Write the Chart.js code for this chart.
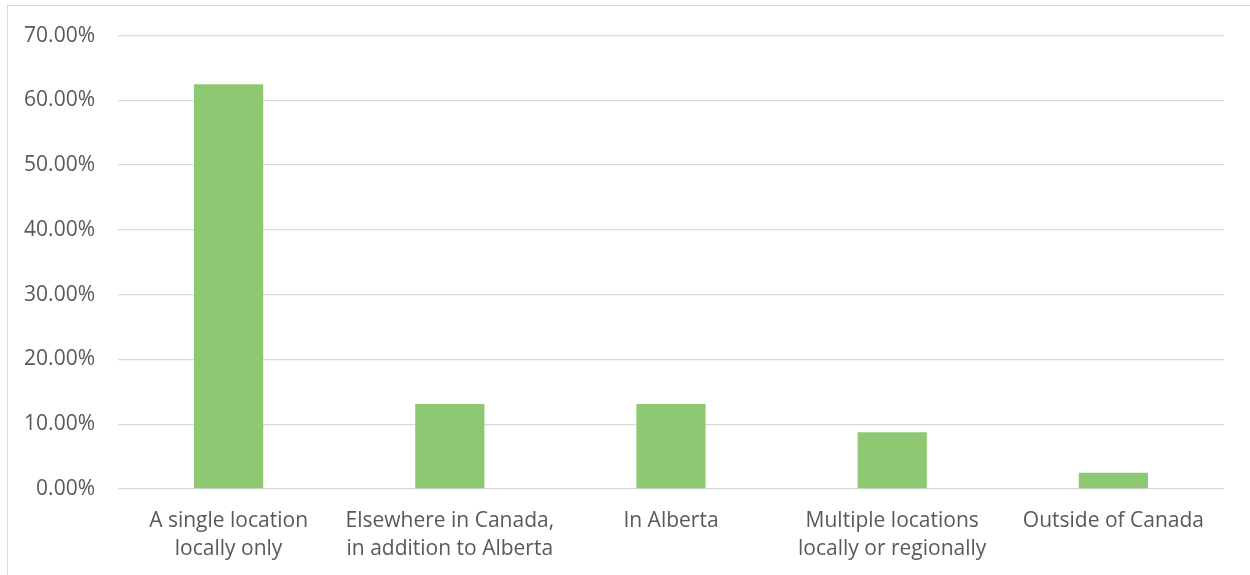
<!DOCTYPE html>
<html>
<head>
<meta charset="utf-8">
<script src="https://cdn.jsdelivr.net/npm/chart.js@4"></script>
<style>
    html, body { margin: 0; padding: 0; background: #fff; }
    #wrap { position: relative; width: 1250px; height: 575px; overflow: hidden; }
    #frame {
        position: absolute; left: 7px; top: 5px; width: 1300px; height: 640px;
        border-left: 1px solid #d9d9d9; border-top: 1px solid #d9d9d9;
    }
    canvas { position: absolute; left: 0; top: 0; }
</style>
</head>
<body>
<div id="wrap">
    <div id="frame"></div>
    <canvas id="chart" width="1250" height="575"></canvas>
</div>
<script>
// data
let categories = [
    ["A single location", "locally only"],
    ["Elsewhere in Canada,", "in addition to Alberta"],
    ["In Alberta"],
    ["Multiple locations", "locally or regionally"],
    ["Outside of Canada"]
];
let shares = [62.5, 13.125, 13.125, 8.75, 2.5];
let yMax = 70;
let yStep = 10;

Chart.defaults.font.family = "'Open Sans', sans-serif";
Chart.defaults.color = "#595959";

const ctx = document.getElementById("chart").getContext("2d");

let chart = new Chart(ctx, {
    type: 'bar',
    data: {
        labels: categories,
        datasets: [{
            data: shares,
            backgroundColor: "#8fc872",
            borderWidth: 0,
            categoryPercentage: 1,
            barPercentage: 0.313
        }]
    },
    options: {
        responsive: false,
        animation: false,
        layout: { padding: { left: 0, right: 26, top: 34, bottom: 0 } },
        plugins: {
            legend: { display: false },
            tooltip: { enabled: false }
        },
        scales: {
            x: {
                grid: { display: false, drawTicks: false },
                border: { display: false },
                ticks: { padding: 18, font: { size: 21, lineHeight: 1.33 }, maxRotation: 0 },
                afterFit: function (scale) { scale.height = 86; }
            },
            y: {
                min: 0,
                max: yMax,
                grid: { color: "#d9d9d9", lineWidth: 1.3, drawTicks: false },
                border: { display: false },
                ticks: {
                    stepSize: yStep,
                    padding: 23,
                    font: { size: 21 },
                    callback: v => v.toFixed(2) + "%"
                },
                afterFit: function (scale) { scale.width = 118; }
            }
        }
    }
});
</script>
</body>
</html>
